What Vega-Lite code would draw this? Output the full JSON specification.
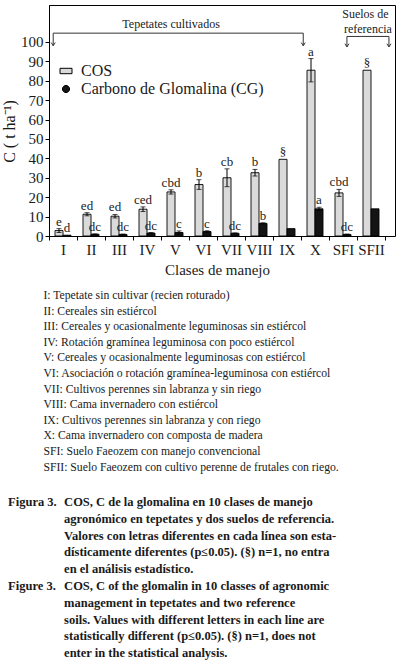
{
  "$schema": "https://vega.github.io/schema/vega-lite/v6.json",
  "width": 346,
  "height": 231,
  "autosize": {"type": "none"},
  "padding": {"left": 49, "top": 5, "right": 4, "bottom": 431},
  "background": "white",
  "config": {
    "font": "Liberation Serif",
    "view": {"stroke": "black", "strokeWidth": 1},
    "axis": {"domainColor": "black", "tickColor": "black", "labelColor": "#1a1a1a", "titleColor": "#1a1a1a", "grid": false, "titleFontWeight": "normal"},
    "axisY": {"values": [0, 10, 20, 30, 40, 50, 60, 70, 80, 90, 100], "labelOverlap": false, "labelFlush": false, "labelFontSize": 15, "labelPadding": 2, "tickSize": 4, "titleFontSize": 16, "titleY": 126, "titlePadding": 3}
  },
  "datasets": {
    "barras": [
      {"clase": "I", "serie": "COS", "valor": 2.8, "inf": 1.8, "sup": 3.8, "letra": "e"},
      {"clase": "I", "serie": "Carbono de Glomalina (CG)", "valor": 0.4, "inf": 0.4, "sup": 0.4, "letra": "d"},
      {"clase": "II", "serie": "COS", "valor": 11.2, "inf": 10.4, "sup": 12.0, "letra": "ed"},
      {"clase": "II", "serie": "Carbono de Glomalina (CG)", "valor": 0.9, "inf": 0.7, "sup": 1.1, "letra": "dc"},
      {"clase": "III", "serie": "COS", "valor": 10.2, "inf": 9.3, "sup": 11.1, "letra": "ed"},
      {"clase": "III", "serie": "Carbono de Glomalina (CG)", "valor": 0.8, "inf": 0.6, "sup": 1.0, "letra": "dc"},
      {"clase": "IV", "serie": "COS", "valor": 13.8, "inf": 12.6, "sup": 15.0, "letra": "ced"},
      {"clase": "IV", "serie": "Carbono de Glomalina (CG)", "valor": 1.5, "inf": 1.2, "sup": 1.8, "letra": "dc"},
      {"clase": "V", "serie": "COS", "valor": 22.7, "inf": 21.6, "sup": 23.8, "letra": "cbd"},
      {"clase": "V", "serie": "Carbono de Glomalina (CG)", "valor": 1.8, "inf": 1.0, "sup": 2.6, "letra": "c"},
      {"clase": "VI", "serie": "COS", "valor": 26.5, "inf": 24.0, "sup": 29.0, "letra": "b"},
      {"clase": "VI", "serie": "Carbono de Glomalina (CG)", "valor": 2.3, "inf": 1.9, "sup": 2.7, "letra": "c"},
      {"clase": "VII", "serie": "COS", "valor": 30.0, "inf": 25.4, "sup": 34.6, "letra": "cb"},
      {"clase": "VII", "serie": "Carbono de Glomalina (CG)", "valor": 1.4, "inf": 1.2, "sup": 1.6, "letra": "dc"},
      {"clase": "VIII", "serie": "COS", "valor": 32.6, "inf": 30.9, "sup": 34.3, "letra": "b"},
      {"clase": "VIII", "serie": "Carbono de Glomalina (CG)", "valor": 6.5, "inf": 6.2, "sup": 6.8, "letra": "b"},
      {"clase": "IX", "serie": "COS", "valor": 39.5, "inf": 39.5, "sup": 39.5, "letra": "§"},
      {"clase": "IX", "serie": "Carbono de Glomalina (CG)", "valor": 3.8, "inf": 3.8, "sup": 3.8, "letra": ""},
      {"clase": "X", "serie": "COS", "valor": 85.4, "inf": 79.4, "sup": 91.4, "letra": "a"},
      {"clase": "X", "serie": "Carbono de Glomalina (CG)", "valor": 14.0, "inf": 13.2, "sup": 14.8, "letra": "a"},
      {"clase": "SFI", "serie": "COS", "valor": 22.2, "inf": 20.4, "sup": 24.0, "letra": "cbd"},
      {"clase": "SFI", "serie": "Carbono de Glomalina (CG)", "valor": 0.8, "inf": 0.6, "sup": 1.0, "letra": "dc"},
      {"clase": "SFII", "serie": "COS", "valor": 85.4, "inf": 85.4, "sup": 85.4, "letra": "§"},
      {"clase": "SFII", "serie": "Carbono de Glomalina (CG)", "valor": 14.0, "inf": 14.0, "sup": 14.0, "letra": ""}
    ],
    "llaves": [
      {"x": 0.15, "x2": 9.08, "y": 104.5, "y2": 104.5},
      {"x": 0.15, "x2": 0.15, "y": 104.5, "y2": 98.0},
      {"x": 9.08, "x2": 9.08, "y": 104.5, "y2": 98.0},
      {"x": 10.64, "x2": 12.14, "y": 102.8, "y2": 102.8},
      {"x": 10.64, "x2": 10.64, "y": 102.8, "y2": 97.4},
      {"x": 12.14, "x2": 12.14, "y": 102.8, "y2": 97.4}
    ],
    "rotulos": [
      {"x": 4.36, "y": 109.3, "texto": "Tepetates cultivados"},
      {"x": 11.3, "y": 114.4, "texto": "Suelos de"},
      {"x": 11.39, "y": 106.7, "texto": "referencia"}
    ],
    "notas": [
      {"n": 1, "t": "I: Tepetate sin cultivar (recien roturado)"},
      {"n": 2, "t": "II: Cereales sin estiércol"},
      {"n": 3, "t": "III: Cereales y ocasionalmente leguminosas sin estiércol"},
      {"n": 4, "t": "IV: Rotación gramínea leguminosa con poco estiércol"},
      {"n": 5, "t": "V: Cereales y ocasionalmente leguminosas con estiércol"},
      {"n": 6, "t": "VI: Asociación o rotación gramínea-leguminosa con estiércol"},
      {"n": 7, "t": "VII: Cultivos perennes sin labranza y sin riego"},
      {"n": 8, "t": "VIII: Cama invernadero con estiércol"},
      {"n": 9, "t": "IX: Cultivos perennes sin labranza y con riego"},
      {"n": 10, "t": "X: Cama invernadero con composta de madera"},
      {"n": 11, "t": "SFI: Suelo Faeozem con manejo convencional"},
      {"n": 12, "t": "SFII: Suelo Faeozem con cultivo perenne de frutales con riego."}
    ],
    "leyenda": [
      {"n": 1, "t": "COS, C de la glomalina en 10 clases de manejo"},
      {"n": 2, "t": "agronómico en tepetates y dos suelos de referencia."},
      {"n": 3, "t": "Valores con letras diferentes en cada línea son esta-"},
      {"n": 4, "t": "dísticamente diferentes (p≤0.05). (§) n=1, no entra"},
      {"n": 5, "t": "en el análisis estadístico."},
      {"n": 6, "t": "COS, C of the glomalin in 10 classes of agronomic"},
      {"n": 7, "t": "management in tepetates and two reference"},
      {"n": 8, "t": "soils. Values with different letters in each line are"},
      {"n": 9, "t": "statistically different (p≤0.05). (§) n=1, does not"},
      {"n": 10, "t": "enter in the statistical analysis."}
    ],
    "figuras": [
      {"n": 1, "t": "Figura 3."},
      {"n": 6, "t": "Figure 3."}
    ]
  },
  "layer": [
    {
      "data": {"name": "barras"},
      "encoding": {
        "x": {
          "field": "clase", "type": "nominal",
          "sort": ["I", "II", "III", "IV", "V", "VI", "VII", "VIII", "IX", "X", "SFI", "SFII"],
          "scale": {"domain": ["I", "II", "III", "IV", "V", "VI", "VII", "VIII", "IX", "X", "SFI", "SFII"], "range": [0, 336], "paddingInner": 0, "paddingOuter": 0},
          "axis": {"labelAngle": 0, "labelFontSize": 15, "labelPadding": 2, "labelOverlap": false, "tickBand": "extent", "tickSize": 4, "title": "Clases de manejo", "titleFontSize": 15, "titlePadding": 5}
        },
        "xOffset": {
          "field": "serie", "type": "nominal",
          "scale": {"domain": ["COS", "Carbono de Glomalina (CG)"], "paddingInner": 0, "paddingOuter": 0.75}
        }
      },
      "layer": [
        {
          "mark": {"type": "bar", "stroke": "black", "strokeWidth": 0.9},
          "encoding": {
            "y": {
              "field": "valor", "type": "quantitative",
              "scale": {"domain": [0, 119], "nice": false, "zero": true},
              "axis": {"values": [0, 10, 20, 30, 40, 50, 60, 70, 80, 90, 100], "title": "C ( t ha⁻¹)"}
            },
            "fill": {
              "field": "serie", "type": "nominal",
              "scale": {"domain": ["COS", "Carbono de Glomalina (CG)"], "range": ["#dadada", "#141414"]},
              "legend": {
                "orient": "none", "legendX": 9, "legendY": 58, "title": null,
                "labelFontSize": 16, "labelColor": "#1a1a1a", "labelOffset": 7, "labelLimit": 0,
                "symbolSize": 144, "symbolStrokeColor": "black", "symbolStrokeWidth": 1, "rowPadding": 2,
                "encode": {"symbols": {"update": {"shape": {"signal": "datum.value === 'COS' ? 'M-1,-0.45H1V0.45H-1Z' : 'M-0.6,0A0.6,0.6 0 1,0 0.6,0A0.6,0.6 0 1,0 -0.6,0Z'"}}}}
              }
            }
          }
        },
        {
          "transform": [{"filter": "datum.sup > datum.valor"}],
          "mark": {"type": "rule", "color": "black", "strokeWidth": 1},
          "encoding": {
            "y": {"field": "inf", "type": "quantitative", "axis": {"values": [0, 10, 20, 30, 40, 50, 60, 70, 80, 90, 100], "title": "C ( t ha⁻¹)"}},
            "y2": {"field": "sup"}
          }
        },
        {
          "transform": [{"filter": "datum.sup > datum.valor"}],
          "mark": {"type": "tick", "color": "black", "size": 5, "thickness": 1},
          "encoding": {"y": {"field": "sup", "type": "quantitative", "axis": {"values": [0, 10, 20, 30, 40, 50, 60, 70, 80, 90, 100], "title": "C ( t ha⁻¹)"}}}
        },
        {
          "transform": [{"filter": "datum.sup > datum.valor"}],
          "mark": {"type": "tick", "color": "black", "size": 5, "thickness": 1},
          "encoding": {"y": {"field": "inf", "type": "quantitative", "axis": {"values": [0, 10, 20, 30, 40, 50, 60, 70, 80, 90, 100], "title": "C ( t ha⁻¹)"}}}
        },
        {
          "mark": {"type": "text", "fontSize": 13, "baseline": "alphabetic", "dy": -3, "color": "#1a1a1a"},
          "encoding": {
            "y": {"field": "sup", "type": "quantitative", "axis": {"values": [0, 10, 20, 30, 40, 50, 60, 70, 80, 90, 100], "title": "C ( t ha⁻¹)"}},
            "text": {"field": "letra", "type": "nominal"}
          }
        }
      ]
    },
    {
      "layer": [
        {
          "data": {"name": "llaves"},
          "mark": {"type": "rule", "color": "#333333", "strokeWidth": 1},
          "encoding": {
            "x": {"field": "x", "type": "quantitative", "scale": {"domain": [0, 12.357], "nice": false, "zero": false}, "axis": null},
            "x2": {"field": "x2"},
            "y": {"field": "y", "type": "quantitative", "scale": {"domain": [0, 119], "nice": false}, "axis": null},
            "y2": {"field": "y2"}
          }
        },
        {
          "data": {"name": "llaves"},
          "transform": [{"filter": "datum.x === datum.x2"}],
          "mark": {"type": "point", "shape": "M-1,-1.6L0,0L1,-1.6", "filled": false, "stroke": "#333333", "strokeWidth": 1, "size": 16, "opacity": 1},
          "encoding": {
            "x": {"field": "x", "type": "quantitative"},
            "y": {"field": "y2", "type": "quantitative"}
          }
        },
        {
          "data": {"name": "rotulos"},
          "mark": {"type": "text", "fontSize": 12, "baseline": "middle", "align": "center", "color": "#1a1a1a"},
          "encoding": {
            "x": {"field": "x", "type": "quantitative"},
            "y": {"field": "y", "type": "quantitative"},
            "text": {"field": "texto", "type": "nominal"}
          }
        }
      ]
    },
    {
      "data": {"name": "notas"},
      "mark": {"type": "text", "fontSize": 11.7, "align": "left", "baseline": "middle", "color": "#1a1a1a"},
      "encoding": {
        "x": {"datum": -0.2, "type": "quantitative", "scale": {"domain": [0, 12.357], "nice": false, "zero": false}, "axis": null},
        "y": {"field": "n", "type": "quantitative", "scale": {"domain": [-17.59, -2.78], "reverse": true, "nice": false, "zero": false}, "axis": null},
        "text": {"field": "t", "type": "nominal"}
      }
    },
    {
      "layer": [
        {
          "data": {"name": "leyenda"},
          "mark": {"type": "text", "fontSize": 12.5, "fontWeight": "bold", "align": "left", "baseline": "middle", "color": "#1a1a1a"},
          "encoding": {
            "x": {"datum": 0.54, "type": "quantitative", "scale": {"domain": [0, 12.357], "nice": false, "zero": false}, "axis": null},
            "y": {"field": "n", "type": "quantitative", "scale": {"domain": [-28.58, -14.83], "reverse": true, "nice": false, "zero": false}, "axis": null},
            "text": {"field": "t", "type": "nominal"}
          }
        },
        {
          "data": {"name": "figuras"},
          "mark": {"type": "text", "fontSize": 12.5, "fontWeight": "bold", "align": "left", "baseline": "middle", "color": "#1a1a1a"},
          "encoding": {
            "x": {"datum": -1.46, "type": "quantitative"},
            "y": {"field": "n", "type": "quantitative"},
            "text": {"field": "t", "type": "nominal"}
          }
        }
      ]
    }
  ],
  "resolve": {"scale": {"x": "independent", "y": "independent", "fill": "independent"}}
}
